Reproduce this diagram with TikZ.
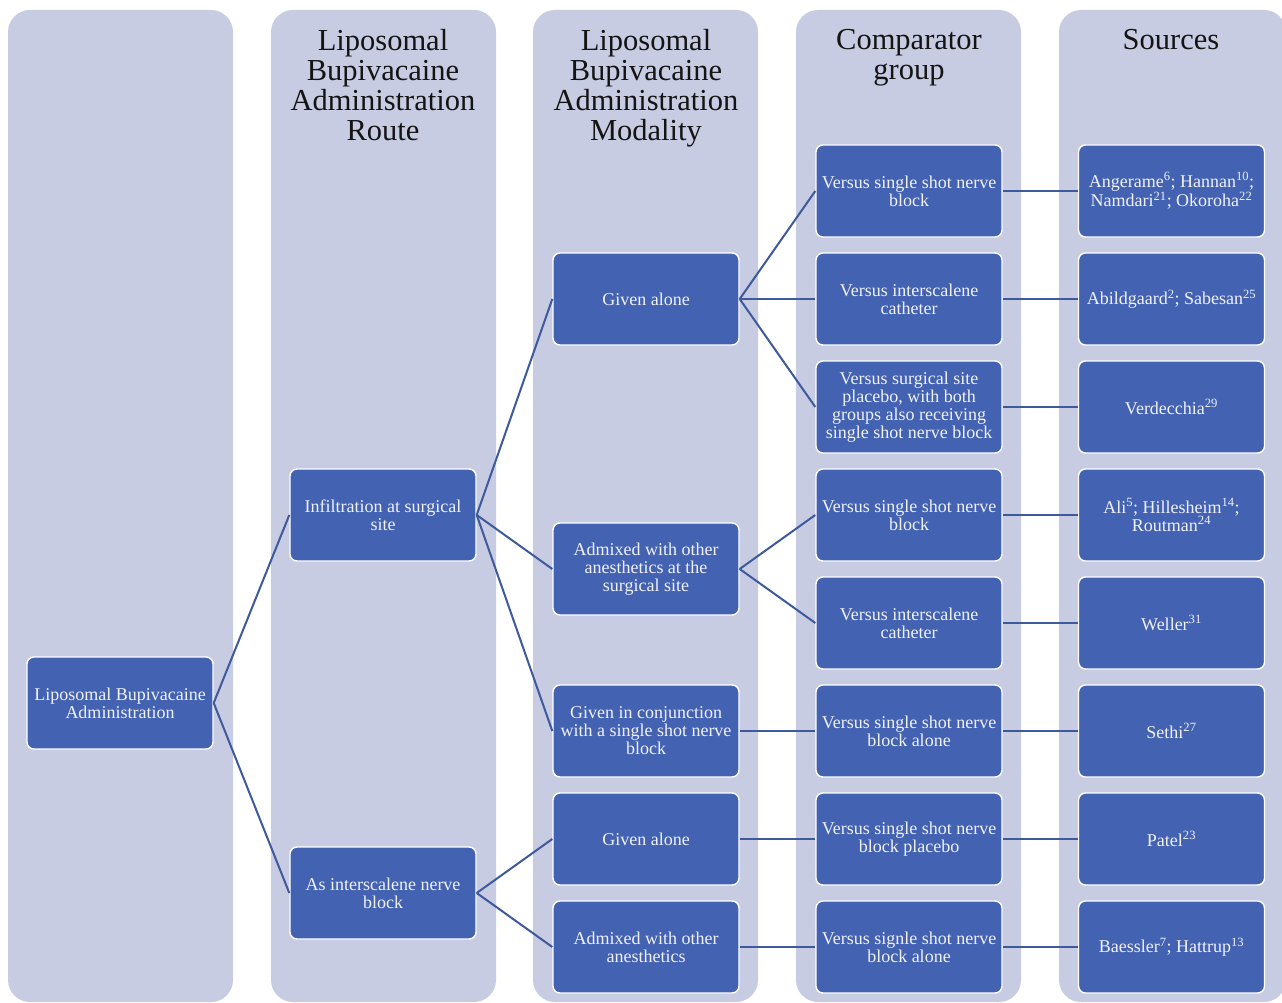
\documentclass[tikz,border=0pt]{standalone}
\usepackage{fontspec}
\setmainfont{Liberation Serif}
\definecolor{colbg}{RGB}{200,204,226}
\definecolor{boxfill}{RGB}{68,98,178}
\definecolor{linec}{RGB}{62,90,156}
\definecolor{boxtext}{RGB}{240,242,250}
\definecolor{headtext}{RGB}{20,20,20}
\tikzset{
  colpanel/.style={fill=colbg, draw=none, rounded corners=22pt},
  bluebox/.style={rectangle, rounded corners=7pt, fill=boxfill, draw=white, line width=1.4pt,
    minimum width=186pt, minimum height=92pt, inner sep=0pt, align=center,
    text=boxtext, font=\fontsize{18}{18}\selectfont},
  headtitle/.style={align=center, text=headtext, inner sep=0pt, anchor=north,
    font=\fontsize{30.5}{30}\selectfont},
  conn/.style={draw=linec, line width=2pt}
}
\begin{document}
\begin{tikzpicture}[x=1pt,y=-1pt]
\useasboundingbox (0,0) rectangle (1282,1003);
\fill[white] (0,0) rectangle (1282,1003);
% column panels
\fill[colpanel] (8,10) rectangle (233,1002);
\fill[colpanel] (271,10) rectangle (496,1002);
\fill[colpanel] (533,10) rectangle (758,1002);
\fill[colpanel] (796,10) rectangle (1021,1002);
\fill[colpanel] (1059,10) rectangle (1286,1002);
% headers
\node[headtitle] (h2) at (383,29) {Liposomal\\Bupivacaine\\Administration\\Route};
\node[headtitle] (h3) at (646,29) {Liposomal\\Bupivacaine\\Administration\\Modality};
\node[headtitle] (h4) at (909,29) {Comparator\\group};
\node[headtitle] (h5) at (1171,29) {Sources};
% column 1
\node[bluebox] (root) at (120,703) {Liposomal Bupivacaine\\Administration};
% column 2
\node[bluebox] (inf) at (383,515) {Infiltration at surgical\\site};
\node[bluebox] (isb) at (383,893) {As interscalene nerve\\block};
% column 3
\node[bluebox] (ga1) at (646,299) {Given alone};
\node[bluebox] (adm1) at (646,569) {Admixed with other\\anesthetics at the\\surgical site};
\node[bluebox] (conj) at (646,731) {Given in conjunction\\with a single shot nerve\\block};
\node[bluebox] (ga2) at (646,839) {Given alone};
\node[bluebox] (adm2) at (646,947) {Admixed with other\\anesthetics};
% column 4
\node[bluebox] (c1) at (909,191) {Versus single shot nerve\\block};
\node[bluebox] (c2) at (909,299) {Versus interscalene\\catheter};
\node[bluebox] (c3) at (909,407) {Versus surgical site\\placebo, with both\\groups also receiving\\single shot nerve block};
\node[bluebox] (c4) at (909,515) {Versus single shot nerve\\block};
\node[bluebox] (c5) at (909,623) {Versus interscalene\\catheter};
\node[bluebox] (c6) at (909,731) {Versus single shot nerve\\block alone};
\node[bluebox] (c7) at (909,839) {Versus single shot nerve\\block placebo};
\node[bluebox] (c8) at (909,947) {Versus signle shot nerve\\block alone};
% column 5
\node[bluebox] (s1) at (1171.5,191) {Angerame\textsuperscript{6}; Hannan\textsuperscript{10};\\Namdari\textsuperscript{21}; Okoroha\textsuperscript{22}};
\node[bluebox] (s2) at (1171.5,299) {Abildgaard\textsuperscript{2}; Sabesan\textsuperscript{25}};
\node[bluebox] (s3) at (1171.5,407) {Verdecchia\textsuperscript{29}};
\node[bluebox] (s4) at (1171.5,515) {Ali\textsuperscript{5}; Hillesheim\textsuperscript{14};\\Routman\textsuperscript{24}};
\node[bluebox] (s5) at (1171.5,623) {Weller\textsuperscript{31}};
\node[bluebox] (s6) at (1171.5,731) {Sethi\textsuperscript{27}};
\node[bluebox] (s7) at (1171.5,839) {Patel\textsuperscript{23}};
\node[bluebox] (s8) at (1171.5,947) {Baessler\textsuperscript{7}; Hattrup\textsuperscript{13}};
% connectors
\draw[conn] (root.east) -- (inf.west);
\draw[conn] (root.east) -- (isb.west);
\draw[conn] (inf.east) -- (ga1.west);
\draw[conn] (inf.east) -- (adm1.west);
\draw[conn] (inf.east) -- (conj.west);
\draw[conn] (isb.east) -- (ga2.west);
\draw[conn] (isb.east) -- (adm2.west);
\draw[conn] (ga1.east) -- (c1.west);
\draw[conn] (ga1.east) -- (c2.west);
\draw[conn] (ga1.east) -- (c3.west);
\draw[conn] (adm1.east) -- (c4.west);
\draw[conn] (adm1.east) -- (c5.west);
\draw[conn] (conj.east) -- (c6.west);
\draw[conn] (ga2.east) -- (c7.west);
\draw[conn] (adm2.east) -- (c8.west);
\draw[conn] (c1.east) -- (s1.west);
\draw[conn] (c2.east) -- (s2.west);
\draw[conn] (c3.east) -- (s3.west);
\draw[conn] (c4.east) -- (s4.west);
\draw[conn] (c5.east) -- (s5.west);
\draw[conn] (c6.east) -- (s6.west);
\draw[conn] (c7.east) -- (s7.west);
\draw[conn] (c8.east) -- (s8.west);
\end{tikzpicture}
\end{document}
